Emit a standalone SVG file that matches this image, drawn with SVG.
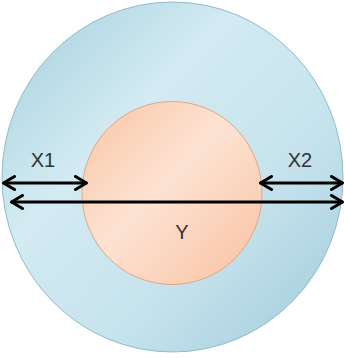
<svg xmlns="http://www.w3.org/2000/svg" width="344" height="358" viewBox="0 0 344 358">
<style>
.lbl{font-family:"Liberation Sans",Arial,sans-serif;font-size:20px;fill:#333;text-anchor:middle}
.arr{stroke:#000;stroke-width:3;fill:none;marker-start:url(#head);marker-end:url(#head)}
</style>
<defs>
<linearGradient id="blue" x1="0" y1="0" x2="1" y2="1">
<stop offset="0" stop-color="#a3cedc"/>
<stop offset="0.35" stop-color="#d3ebf2"/>
<stop offset="0.65" stop-color="#c6e3ed"/>
<stop offset="1" stop-color="#9fcad9"/>
</linearGradient>
<linearGradient id="peach" x1="0" y1="0" x2="1" y2="1">
<stop offset="0" stop-color="#f8c4a2"/>
<stop offset="0.45" stop-color="#fde3d3"/>
<stop offset="1" stop-color="#f8c1a0"/>
</linearGradient>
<marker id="head" viewBox="0 0 16 16" refX="14.5" refY="8" markerWidth="16" markerHeight="16" orient="auto-start-reverse" markerUnits="userSpaceOnUse">
<path d="M3,1.5 L14,8 L3,14.5" fill="none" stroke="#000" stroke-width="3" stroke-linecap="round" stroke-linejoin="round"/>
</marker>
</defs>
<g id="outer">
<ellipse cx="172.5" cy="177" rx="170.5" ry="175" fill="url(#blue)" stroke="#8fbccc" stroke-width="1"/>
</g>
<g id="inner">
<ellipse cx="172" cy="193" rx="90" ry="91.5" fill="url(#peach)" stroke="#e3a584" stroke-width="1"/>
</g>
<g id="connectors">
<line class="arr" x1="3" y1="183" x2="87" y2="183"/>
<line class="arr" x1="260" y1="183" x2="343" y2="183"/>
<line class="arr" x1="11" y1="202" x2="343" y2="202"/>
</g>
<g id="labels">
<text class="lbl" x="43" y="167">X1</text>
<text class="lbl" x="300" y="167">X2</text>
<text class="lbl" x="182" y="239">Y</text>
</g>
</svg>
